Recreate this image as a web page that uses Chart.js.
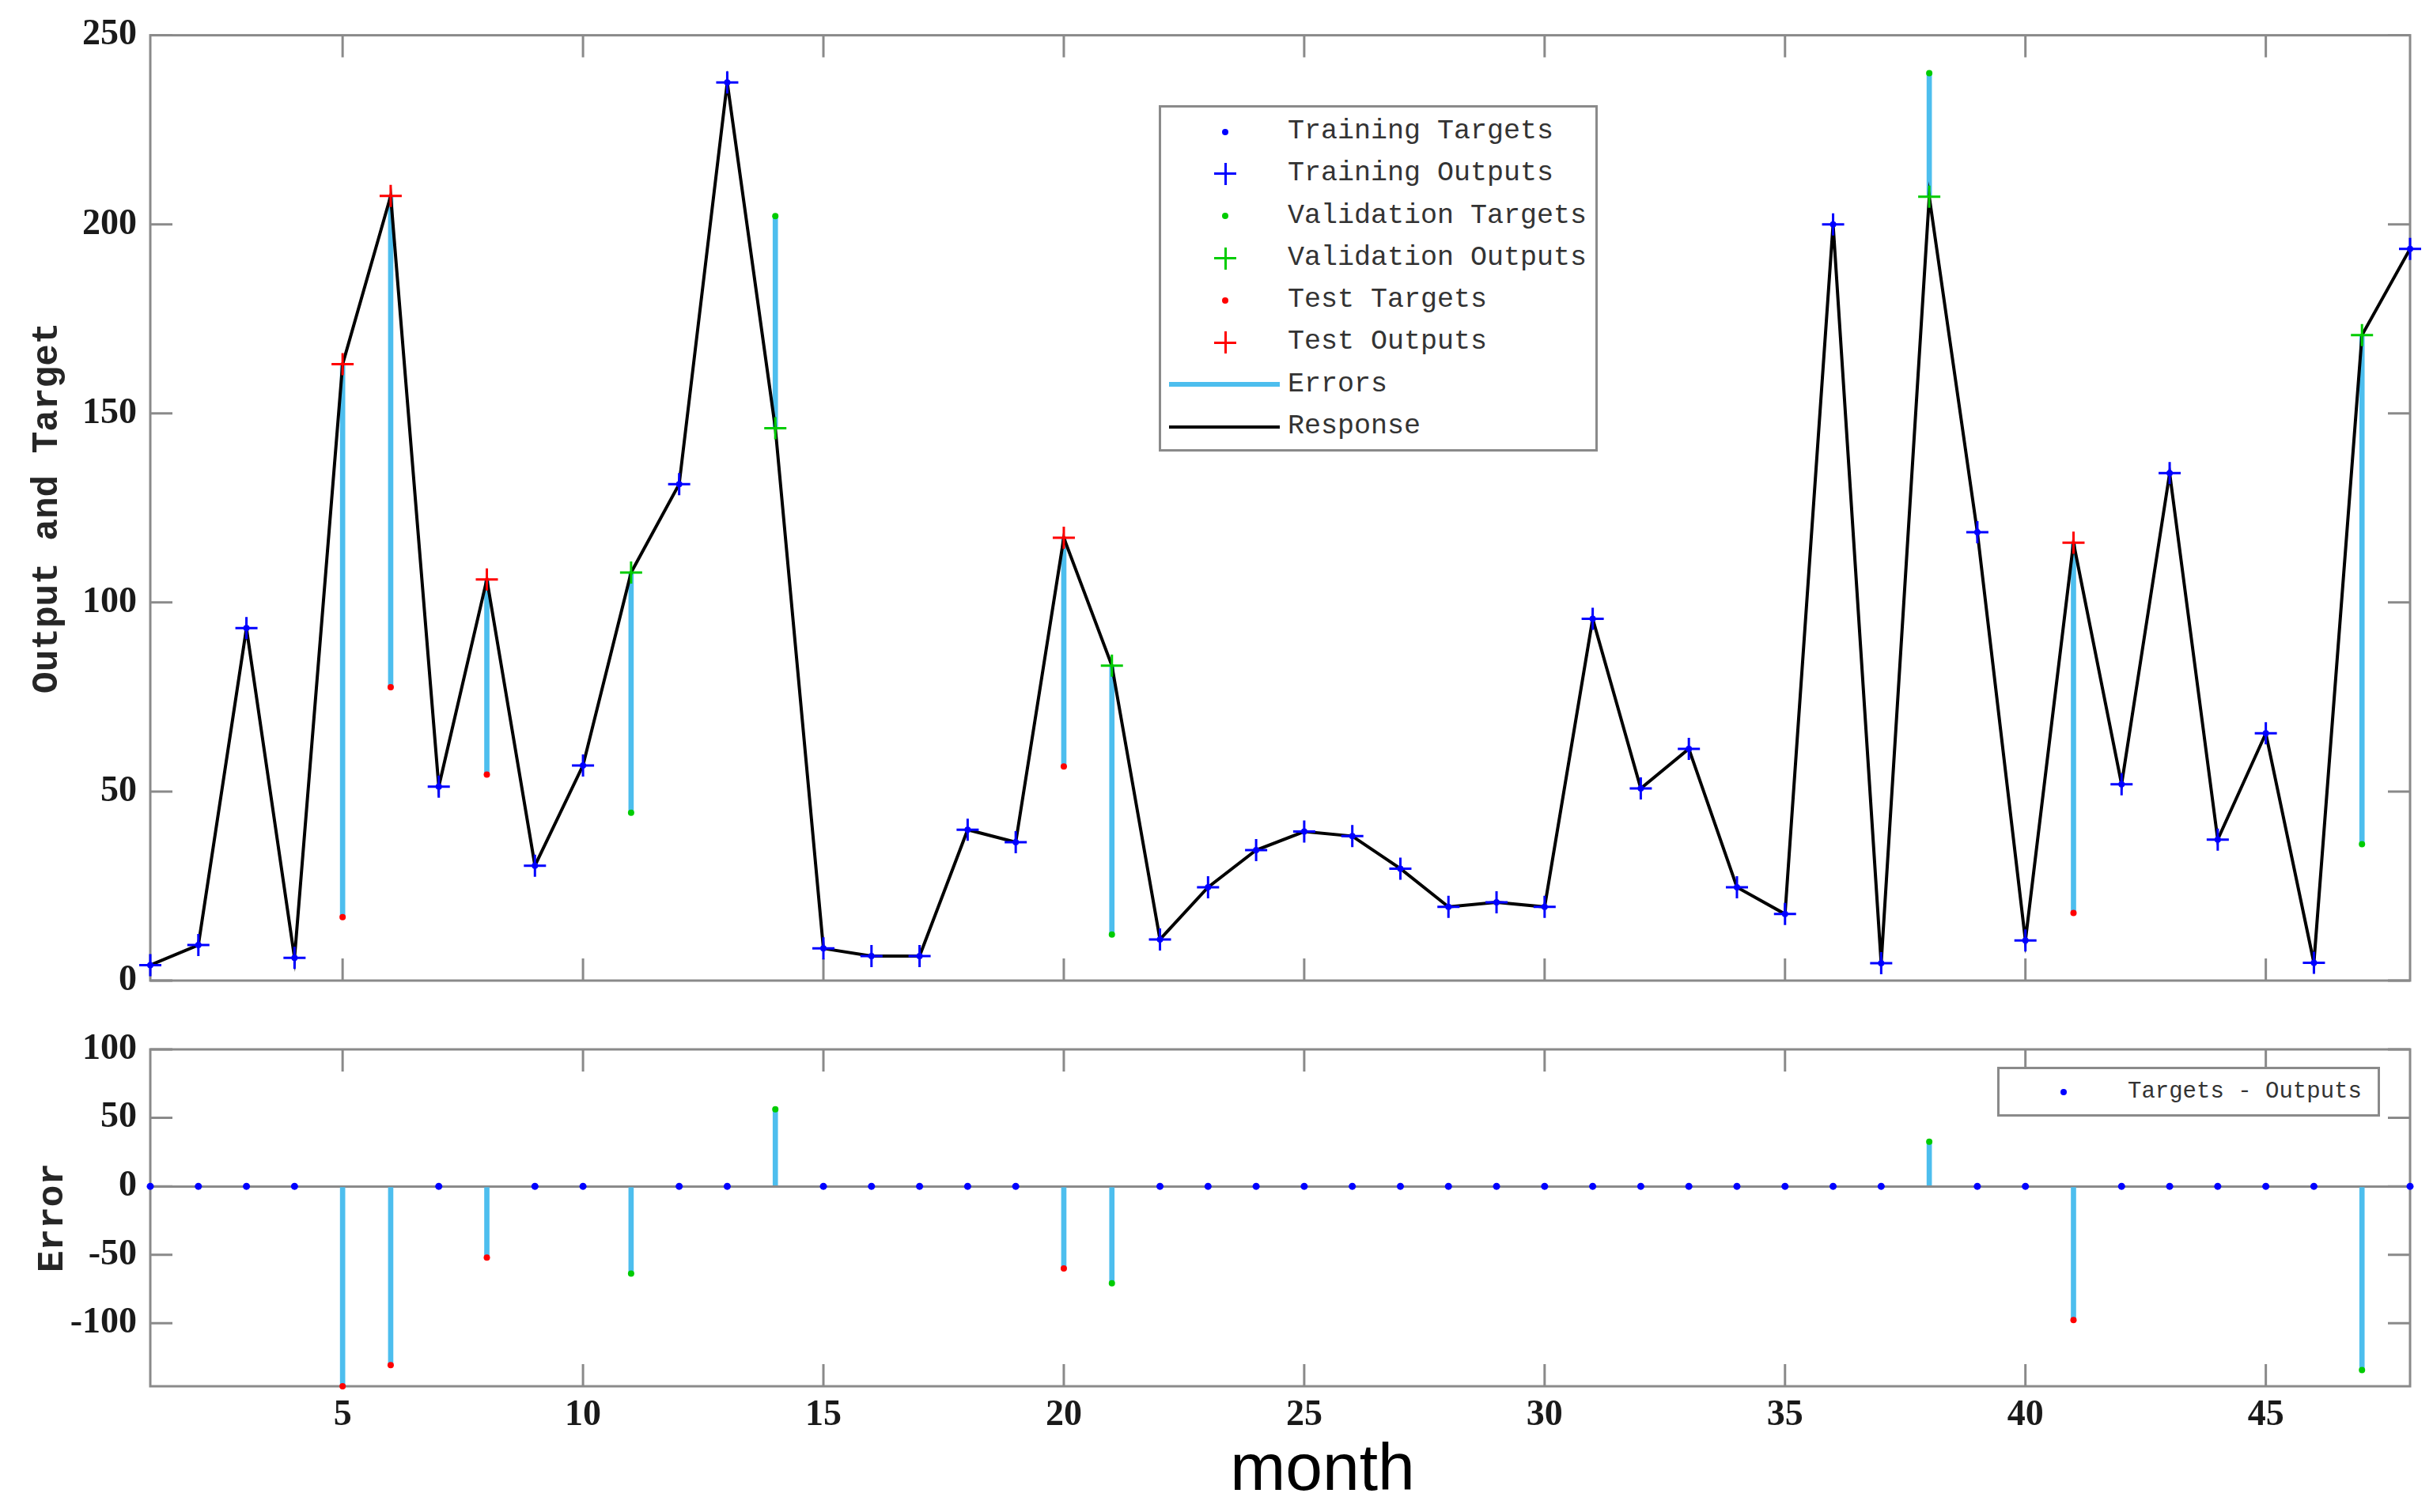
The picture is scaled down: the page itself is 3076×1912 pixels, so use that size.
<!DOCTYPE html>
<html>
<head>
<meta charset="utf-8">
<title>Response of output element</title>
<script src="https://cdn.jsdelivr.net/npm/chart.js"></script>
<style>
    body { margin: 0; background: #fff; }
    #page { position: relative; width: 3076px; height: 1912px; overflow: hidden; }
    canvas { position: absolute; left: 0; }
    #responseChart { top: 0; }
    #errorChart { top: 1280px; }

    .legend {
        position: absolute;
        box-sizing: border-box;
        background: #fff;
        border: 3px solid #8a8a8a;
        font-family: 'Liberation Mono', monospace;
        color: #333;
    }
    #responseLegend { left: 1465px; top: 133px; width: 555px; height: 438px; padding-top: 4px; font-size: 35px; }
    #errorLegend { left: 2525px; top: 1349px; width: 484px; height: 63px; font-size: 29px; }
    .row { position: relative; height: 53.3px; line-height: 53.3px; white-space: pre; }
    #errorLegend .row { height: 57px; line-height: 57px; }
    .txt { position: absolute; left: 160px; }
    #errorLegend .txt { left: 162px; }
    .mark { position: absolute; top: 50%; }
    .mark.dot { width: 8px; height: 8px; left: 77px; margin-top: -4px; border-radius: 50%; }
    .mark.plus {
        width: 28px; height: 28px; left: 67px; margin-top: -14px;
        background:
            linear-gradient(currentColor, currentColor) center / 3px 100% no-repeat,
            linear-gradient(currentColor, currentColor) center / 100% 3px no-repeat;
    }
    .mark.line { width: 140px; left: 10px; transform: translateY(-50%); }

    #xTitle {
        position: absolute; left: 1472px; top: 1813px; width: 400px;
        text-align: center; line-height: 1;
        font-family: 'Liberation Sans', Arial, sans-serif; font-size: 84px; color: #000;
    }
</style>
</head>
<body>
<div id="page">
    <canvas id="responseChart" width="3076" height="1300"></canvas>
    <canvas id="errorChart" width="3076" height="632"></canvas>
    <div id="responseLegend" class="legend"></div>
    <div id="errorLegend" class="legend"></div>
    <div id="xTitle">month</div>
</div>

<script>
// ---- data ----
const months = [1, 2, 3, 4, 5, 6, 7, 8, 9, 10, 11, 12, 13, 14, 15, 16, 17, 18, 19, 20, 21, 22, 23, 24,
                25, 26, 27, 28, 29, 30, 31, 32, 33, 34, 35, 36, 37, 38, 39, 40, 41, 42, 43, 44, 45, 46, 47, 48];

// network response (outputs) for every month
const response = [4.1, 9.4, 93.2, 6.0, 163.0, 207.5, 51.3, 106.1, 30.4, 56.9, 107.9, 131.3,
                  237.5, 146.1, 8.5, 6.5, 6.5, 39.9, 36.6, 117.1, 83.3, 10.9, 24.7, 34.5,
                  39.4, 38.2, 29.6, 19.5, 20.7, 19.5, 95.7, 50.8, 61.3, 24.7, 17.6, 200.0,
                  4.6, 207.3, 118.6, 10.6, 115.8, 51.9, 134.2, 37.3, 65.4, 4.7, 170.7, 193.5];

// validation samples
const valMonths = [11, 14, 21, 38, 47];
const valTargets = [44.4, 202.2, 12.2, 240.0, 36.1];
const valErrors = [-63.7, 56.3, -70.8, 32.6, -134.2];

// test samples
const testMonths = [5, 6, 8, 20, 41];
const testTargets = [16.8, 77.6, 54.5, 56.6, 17.9];
const testErrors = [-146.0, -130.5, -52.0, -60.0, -97.7];

const xTicks = { min: 1, max: 48, step: 5 };
const responseAxis = { min: 0, max: 250, step: 50 };
const errorAxis = { min: -146, max: 100, step: 50 };

const COLORS = {
    train: '#0000ff',
    val: '#00cc00',
    test: '#ff0000',
    error: '#4dbeee',
    response: '#000000',
    axis: '#8a8a8a',
    text: '#1a1a1a'
};

// training samples: targets equal outputs (error 0)
const trainMonths = months.filter(m => !valMonths.includes(m) && !testMonths.includes(m));
const outputAt = m => response[months.indexOf(m)];
const points = (xs, ys) => xs.map((x, i) => ({ x: x, y: ys[i] }));

Chart.defaults.font.family = "'Liberation Serif', serif";
Chart.defaults.color = COLORS.text;

// MATLAB style frame with inward tick marks on all four sides
const boxTicks = {
    id: 'boxTicks',
    beforeDatasetsDraw(chart) {
        const { ctx, chartArea: a, scales: { x, y } } = chart;
        const len = 28;
        ctx.save();
        ctx.strokeStyle = COLORS.axis;
        ctx.lineWidth = 3;
        ctx.strokeRect(a.left, a.top, a.right - a.left, a.bottom - a.top);
        ctx.beginPath();
        x.ticks.forEach(t => {
            const px = x.getPixelForValue(t.value);
            ctx.moveTo(px, a.bottom); ctx.lineTo(px, a.bottom - len);
            ctx.moveTo(px, a.top); ctx.lineTo(px, a.top + len);
        });
        y.ticks.forEach(t => {
            const py = y.getPixelForValue(t.value);
            ctx.moveTo(a.left, py); ctx.lineTo(a.left + len, py);
            ctx.moveTo(a.right, py); ctx.lineTo(a.right - len, py);
        });
        ctx.stroke();
        ctx.restore();
    }
};

function dotSet(label, data, color, radius) {
    return {
        label: label,
        data: data,
        pointStyle: 'circle',
        pointRadius: radius,
        pointBackgroundColor: color,
        pointBorderWidth: 0,
        clip: false,
        order: 0
    };
}

function plusSet(label, data, color) {
    return {
        label: label,
        data: data,
        pointStyle: 'cross',
        pointRadius: 14,
        pointBorderColor: color,
        pointBorderWidth: 3,
        clip: false,
        order: 0
    };
}

function makeOptions(cfg) {
    return {
        responsive: false,
        devicePixelRatio: 1,
        animation: false,
        events: [],
        layout: { padding: { top: cfg.padTop, right: 29, left: 0, bottom: 0 } },
        plugins: {
            legend: { display: false },
            tooltip: { enabled: false }
        },
        scales: {
            x: {
                type: 'linear',
                min: xTicks.min,
                max: xTicks.max,
                offset: false,
                grid: { display: false, drawTicks: false, offset: false },
                border: { display: false },
                ticks: {
                    display: cfg.showX,
                    stepSize: xTicks.step,
                    includeBounds: false,
                    autoSkip: false,
                    maxRotation: 0,
                    padding: 10,
                    font: { size: 46, weight: 'bold' }
                },
                afterFit: s => { s.height = cfg.xHeight; }
            },
            y: {
                type: 'linear',
                min: cfg.axis.min,
                max: cfg.axis.max,
                border: { display: false },
                grid: {
                    display: cfg.zeroLine,
                    drawTicks: false,
                    lineWidth: 3,
                    color: c => (c.tick && c.tick.value === 0) ? COLORS.axis : 'rgba(0,0,0,0)'
                },
                ticks: {
                    stepSize: cfg.axis.step,
                    includeBounds: false,
                    padding: 17,
                    font: { size: 46, weight: 'bold' }
                },
                title: {
                    display: true,
                    text: cfg.yTitle,
                    color: '#262626',
                    font: { family: "'Liberation Mono', monospace", size: 46, weight: 'bold' },
                    padding: { top: cfg.titlePad, bottom: 0 }
                },
                afterFit: s => { s.width = 190; }
            }
        }
    };
}

function buildLegend(chart, el) {
    chart.data.datasets.forEach(ds => {
        if (!ds.label) return;
        const row = document.createElement('div');
        row.className = 'row';
        const mark = document.createElement('span');
        if (ds.type === 'bar') {
            mark.className = 'mark line';
            mark.style.background = ds.backgroundColor;
            mark.style.height = ds.barThickness + 'px';
        } else if (ds.type === 'line') {
            mark.className = 'mark line';
            mark.style.background = ds.borderColor;
            mark.style.height = ds.borderWidth + 'px';
        } else if (ds.pointStyle === 'cross') {
            mark.className = 'mark plus';
            mark.style.color = ds.pointBorderColor;
        } else {
            mark.className = 'mark dot';
            mark.style.background = ds.pointBackgroundColor;
        }
        const txt = document.createElement('span');
        txt.className = 'txt';
        txt.textContent = ds.label;
        row.appendChild(mark);
        row.appendChild(txt);
        el.appendChild(row);
    });
}

// ---- response chart ----
const stemData = points(valMonths, valMonths.map((m, i) => [valTargets[i], outputAt(m)]))
    .concat(points(testMonths, testMonths.map((m, i) => [testTargets[i], outputAt(m)])))
    .sort((a, b) => a.x - b.x);

const responseChart = new Chart(document.getElementById('responseChart'), {
    type: 'scatter',
    data: {
        datasets: [
            dotSet('Training Targets', trainMonths.map(m => ({ x: m, y: outputAt(m) })), COLORS.train, 4),
            plusSet('Training Outputs', trainMonths.map(m => ({ x: m, y: outputAt(m) })), COLORS.train),
            dotSet('Validation Targets', points(valMonths, valTargets), COLORS.val, 4),
            plusSet('Validation Outputs', valMonths.map(m => ({ x: m, y: outputAt(m) })), COLORS.val),
            dotSet('Test Targets', points(testMonths, testTargets), COLORS.test, 4),
            plusSet('Test Outputs', testMonths.map(m => ({ x: m, y: outputAt(m) })), COLORS.test),
            {
                type: 'bar',
                label: 'Errors',
                data: stemData,
                backgroundColor: COLORS.error,
                barThickness: 6,
                order: 2
            },
            {
                type: 'line',
                label: 'Response',
                data: points(months, response),
                borderColor: COLORS.response,
                borderWidth: 4,
                pointRadius: 0,
                tension: 0,
                fill: false,
                order: 1
            }
        ]
    },
    options: makeOptions({
        padTop: 43, xHeight: 60, showX: false, zeroLine: false,
        axis: responseAxis, yTitle: 'Output and Target', titlePad: 33
    }),
    plugins: [boxTicks]
});

// ---- error chart ----
const errorStems = points(valMonths, valErrors)
    .concat(points(testMonths, testErrors))
    .sort((a, b) => a.x - b.x);

const errorChart = new Chart(document.getElementById('errorChart'), {
    type: 'scatter',
    data: {
        datasets: [
            dotSet('Targets - Outputs', trainMonths.map(m => ({ x: m, y: 0 })), COLORS.train, 4.5),
            dotSet('', points(valMonths, valErrors), COLORS.val, 4),
            dotSet('', points(testMonths, testErrors), COLORS.test, 4),
            {
                type: 'bar',
                data: errorStems,
                backgroundColor: COLORS.error,
                barThickness: 6,
                order: 2
            }
        ]
    },
    options: makeOptions({
        padTop: 47, xHeight: 159, showX: true, zeroLine: true,
        axis: errorAxis, yTitle: 'Error', titlePad: 40
    }),
    plugins: [boxTicks]
});

buildLegend(responseChart, document.getElementById('responseLegend'));
buildLegend(errorChart, document.getElementById('errorLegend'));
</script>
</body>
</html>
